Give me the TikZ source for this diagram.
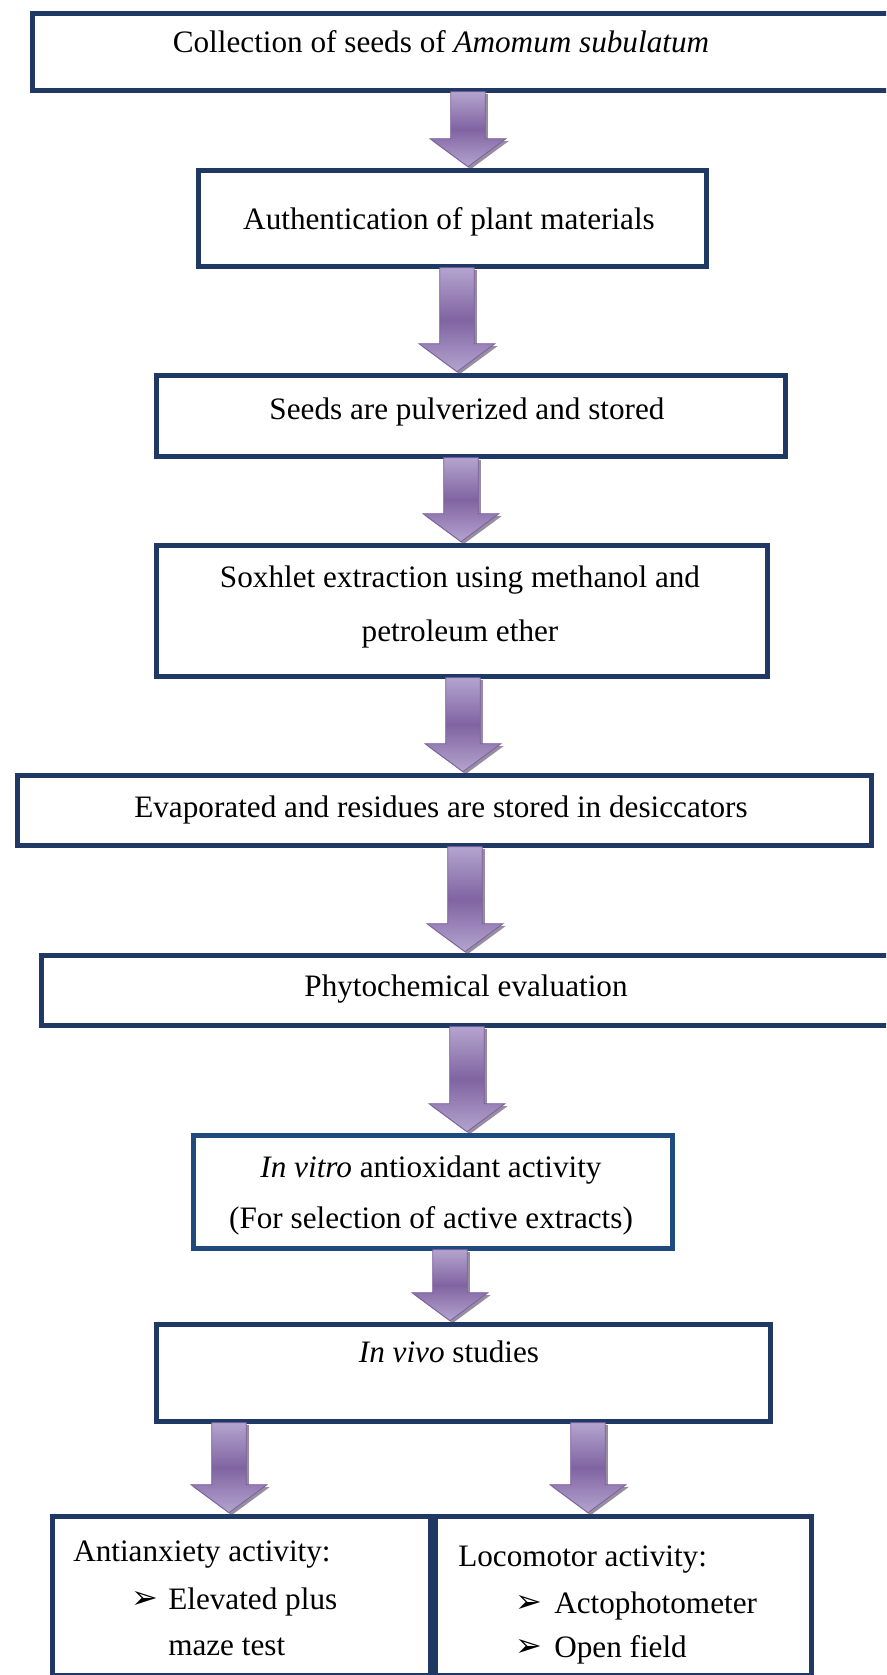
\documentclass[tikz,border=0pt]{standalone}
\usepackage{fontspec}
\setmainfont{Liberation Serif}
\newfontfamily\symfont{DejaVu Sans}
\usetikzlibrary{calc}
\definecolor{navy}{HTML}{1F3864}
\definecolor{navyb}{HTML}{1F4A7E}
\definecolor{arlight}{HTML}{B4A4CE}
\definecolor{armid}{HTML}{8064A2}
\definecolor{arline}{HTML}{7D5FA0}
\definecolor{arshadow}{HTML}{3F3151}
\tikzset{
  box/.style={draw=navy, line width=3.75pt, fill=white, inner sep=0pt, anchor=north west},
  txt/.style={font=\fontsize{23.4}{23.4}\selectfont, inner sep=0pt, anchor=base},
  ltxt/.style={font=\fontsize{23.4}{23.4}\selectfont, inner sep=0pt, anchor=base west},
}
\newcommand\boxnode[6][]{%
  \node[box,#1, minimum width={(#5-#3)*0.75pt}, minimum height={(#6-#4)*0.75pt}] (#2) at (#3,#4) {};}
\newcommand\arrowshape[5]{%
  \path[#4] let \p1=(#2.south), \p2=(#3.north), \n1={#1*0.75+#5}, \n2={#5} in
    (\n1 pt-13pt,\y1+1pt-\n2 pt) -- (\n1 pt+13pt,\y1+1pt-\n2 pt)
    -- (\n1 pt+13pt,\y2+22pt-\n2 pt) -- (\n1 pt+28.5pt,\y2+22pt-\n2 pt)
    -- (\n1 pt,\y2+1pt-\n2 pt) -- (\n1 pt-28.5pt,\y2+22pt-\n2 pt)
    -- (\n1 pt-13pt,\y2+22pt-\n2 pt) -- cycle;}
\newcommand\blockarrow[3]{%
  \arrowshape{#1}{#2}{#3}{fill=arshadow, opacity=0.55}{1.9}%
  \arrowshape{#1}{#2}{#3}{shade, top color=arlight, bottom color=arlight, middle color=armid, draw=arline, line width=0.6pt}{0}}
\newcommand\bul{{\symfont\fontsize{24}{24}\selectfont ➢}}
\begin{document}
\begin{tikzpicture}[x=0.75pt,y=-0.75pt]
\useasboundingbox (0,0) rectangle (886,1675);
\clip (0,0) rectangle (886,1675);
% boxes
\boxnode{b1}{30}{11}{900}{88}
\boxnode{b2}{196}{168}{704}{264}
\boxnode{b3}{154}{373}{783}{454}
\boxnode{b4}{154}{543}{765}{674}
\boxnode{b5}{15}{773}{869}{843}
\boxnode{b6}{39}{953}{900}{1023}
\boxnode[draw=navyb]{b7}{191}{1133}{670}{1246}
\boxnode{b8}{154}{1322}{768}{1419}
\boxnode{b9}{50}{1514}{428}{1673}
\boxnode{b10}{433}{1514}{809}{1673}
% arrows
\blockarrow{468}{b1}{b2}
\blockarrow{457}{b2}{b3}
\blockarrow{461}{b3}{b4}
\blockarrow{463}{b4}{b5}
\blockarrow{465}{b5}{b6}
\blockarrow{467}{b6}{b7}
\blockarrow{450}{b7}{b8}
\blockarrow{229}{b8}{b9}
\blockarrow{588}{b8}{b10}
% texts
\node[txt] (t1) at (441,52) {Collection of seeds of \textit{Amomum subulatum}};
\node[txt] (t2) at (449,229) {Authentication of plant materials};
\node[txt] (t3) at (467,419) {Seeds are pulverized and stored};
\node[txt] (t4a) at (460,587) {Soxhlet extraction using methanol and};
\node[txt] (t4b) at (460,641) {petroleum ether};
\node[txt] (t5) at (441,817) {Evaporated and residues are stored in desiccators};
\node[txt] (t6) at (466,996) {Phytochemical evaluation};
\node[txt] (t7a) at (431,1177) {\textit{In vitro} antioxidant activity};
\node[txt] (t7b) at (431,1228) {(For selection of active extracts)};
\node[txt] (t8) at (449,1362) {\textit{In vivo} studies};
\node[ltxt] (t9a) at (73,1561) {Antianxiety activity:};
\node[ltxt] (t9b) at (131,1608) {\bul};
\node[ltxt] (t9c) at (168,1609) {Elevated plus};
\node[ltxt] (t9d) at (168,1655) {maze test};
\node[ltxt] (t10a) at (458,1566) {Locomotor activity:};
\node[ltxt] (t10b) at (515,1612) {\bul};
\node[ltxt] (t10c) at (554,1613) {Actophotometer};
\node[ltxt] (t10d) at (515,1656) {\bul};
\node[ltxt] (t10e) at (554,1657) {Open field};
\end{tikzpicture}
\end{document}
